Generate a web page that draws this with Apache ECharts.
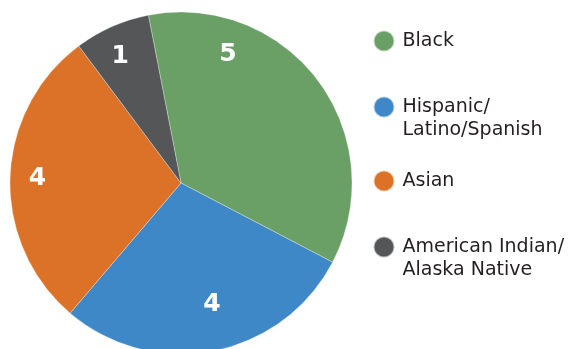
<!DOCTYPE html>
<html>
<head>
<meta charset="utf-8">
<script src="https://cdn.jsdelivr.net/npm/echarts@6/dist/echarts.min.js"></script>
<style>
  html, body { margin: 0; padding: 0; background: #fff; }
  #chart { width: 571px; height: 349px; }
</style>
</head>
<body>
<div id="chart"></div>
<script>
// Group names (legend text) and counts per group
const categories = ['Black', 'Hispanic/\nLatino/Spanish', 'Asian', 'American Indian/\nAlaska Native'];
const counts = [5, 4, 4, 1];
const colors = ['#6a9f66', '#3e88c8', '#dc7228', '#545658'];

// Nudges for the in-slice number labels, [dx, dy]
const labelNudge = [[-24, -76], [14, 35], [-55, -2], [-25, -46]];
// Vertical centre of each legend marker
const legendCenters = [40, 107, 180, 247];

const LINE_H = 23;
const MARK = 21;

const chart = echarts.init(document.getElementById('chart'), null, { renderer: 'canvas' });

// One legend per entry so each marker lines up with the first line of its text
const legends = categories.map((name, i) => {
  const multi = name.indexOf('\n') >= 0;
  // multi-line entries get a blank first line, making the block three lines tall
  const blockH = multi ? LINE_H * 3 : MARK;
  return {
    data: [name],
    orient: 'vertical',
    left: 372.5,
    top: legendCenters[i] - blockH / 2,
    padding: 0,
    icon: 'circle',
    itemWidth: 27,
    itemHeight: MARK,
    itemGap: 0,
    selectedMode: false,
    formatter: function (n) {
      return n.indexOf('\n') >= 0 ? '\n' + n : n;
    },
    textStyle: {
      fontFamily: 'DejaVu Sans',
      fontSize: 19,
      color: '#231f20',
      lineHeight: LINE_H
    }
  };
});

chart.setOption({
  animation: false,
  color: colors,
  legend: legends,
  series: [{
    type: 'pie',
    center: [181, 183],
    radius: 171,
    startAngle: 101,
    clockwise: true,
    avoidLabelOverlap: false,
    itemStyle: { borderColor: 'rgba(255,255,255,0.6)', borderWidth: 0.5 },
    label: {
      show: true,
      position: 'inside',
      formatter: '{c}',
      color: '#ffffff',
      fontFamily: 'DejaVu Sans',
      fontWeight: 'bold',
      fontSize: 25
    },
    labelLine: { show: false },
    labelLayout: function (params) {
      const n = labelNudge[params.dataIndex];
      return { dx: n[0], dy: n[1] };
    },
    emphasis: { disabled: true },
    data: categories.map((name, i) => ({ name: name, value: counts[i] }))
  }]
});
</script>
</body>
</html>
